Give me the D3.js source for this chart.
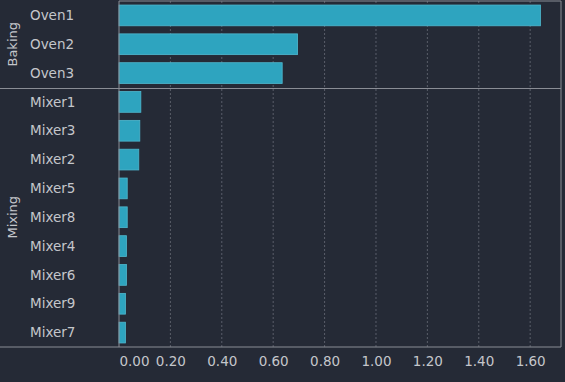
<!DOCTYPE html>
<html>
<head>
<meta charset="utf-8">
<script src="https://cdn.jsdelivr.net/npm/d3@7"></script>
<style>
  html, body { margin: 0; padding: 0; background: #252a36; }
  svg { display: block; }
  text { font-family: "DejaVu Sans", sans-serif; fill: #c4c6cb; }
</style>
</head>
<body>
<div id="chart"></div>
<script>
const groups = ["Baking", "Mixing"];
const machines = ["Oven1", "Oven2", "Oven3", "Mixer1", "Mixer3", "Mixer2", "Mixer5", "Mixer8", "Mixer4", "Mixer6", "Mixer9", "Mixer7"];
const machineGroup = ["Baking", "Baking", "Baking", "Mixing", "Mixing", "Mixing", "Mixing", "Mixing", "Mixing", "Mixing", "Mixing", "Mixing"];
const values = [1.64, 0.695, 0.635, 0.085, 0.081, 0.077, 0.032, 0.032, 0.029, 0.029, 0.025, 0.025];
const tickValues = [0, 0.2, 0.4, 0.6, 0.8, 1.0, 1.2, 1.4, 1.6];

const data = machines.map((name, i) => ({ name, group: machineGroup[i], value: values[i] }));

const width = 565, height = 382;
const margin = { top: 1, right: 4, bottom: 35, left: 119 };
const gridColor = "#8a8d95";

const svg = d3.select("#chart").append("svg")
  .attr("width", width)
  .attr("height", height);

svg.append("rect")
  .attr("width", width)
  .attr("height", height)
  .attr("fill", "#252a36");

const x = d3.scaleLinear()
  .domain([0, 1.72])
  .range([margin.left, width - margin.right]);

const y = d3.scaleBand()
  .domain(machines)
  .range([margin.top, height - margin.bottom])
  .paddingInner(0.28)
  .paddingOuter(0.14);

const bottom = height - margin.bottom;

// grid lines
svg.append("g")
  .selectAll("line")
  .data(tickValues.slice(1))
  .enter()
  .append("line")
  .attr("x1", (d) => x(d))
  .attr("x2", (d) => x(d))
  .attr("y1", margin.top)
  .attr("y2", bottom)
  .attr("stroke", "#5a5e6a")
  .attr("stroke-width", 1)
  .attr("stroke-dasharray", "2,2");

// bars
svg.append("g")
  .selectAll("rect")
  .data(data)
  .enter()
  .append("rect")
  .attr("x", x(0))
  .attr("y", (d) => y(d.name))
  .attr("width", (d) => x(d.value) - x(0))
  .attr("height", y.bandwidth())
  .attr("fill", "#2ea4bf")
  .attr("stroke", "#4fb8cf")
  .attr("stroke-width", 0.8);

// x axis labels
const xAxis = d3.axisBottom(x)
  .tickValues(tickValues)
  .tickFormat(d3.format(".2f"))
  .tickSize(0)
  .tickPadding(9);

const gx = svg.append("g")
  .attr("transform", `translate(0, ${bottom})`)
  .call(xAxis);
gx.select(".domain").remove();
gx.selectAll("text")
  .style("font-family", "DejaVu Sans, sans-serif")
  .style("font-size", "13.5px")
  .attr("fill", "#c4c6cb")
  .attr("dx", (d) => (d === 0 ? 15 : 0));

// frame
svg.append("line")
  .attr("x1", 0).attr("x2", width - margin.right)
  .attr("y1", bottom).attr("y2", bottom)
  .attr("stroke", gridColor);
svg.append("line")
  .attr("x1", x(0)).attr("x2", x(0))
  .attr("y1", margin.top).attr("y2", bottom)
  .attr("stroke", gridColor);
svg.append("line")
  .attr("x1", width - margin.right).attr("x2", width - margin.right)
  .attr("y1", margin.top).attr("y2", bottom)
  .attr("stroke", gridColor);
svg.append("line")
  .attr("x1", x(0)).attr("x2", width - margin.right)
  .attr("y1", margin.top).attr("y2", margin.top)
  .attr("stroke", gridColor);

// group separator
const step = y.step();
groups.slice(1).forEach((g) => {
  const first = data.find((d) => d.group === g).name;
  const sepY = Math.round(y(first) - (step - y.bandwidth()) / 2) + 0.5;
  svg.append("line")
    .attr("x1", 0).attr("x2", width - margin.right)
    .attr("y1", sepY).attr("y2", sepY)
    .attr("stroke", gridColor);
});

// category labels
svg.append("g")
  .selectAll("text")
  .data(data)
  .enter()
  .append("text")
  .attr("x", 30)
  .attr("y", (d) => y(d.name) + y.bandwidth() / 2)
  .attr("dy", "0.35em")
  .style("font-size", "13.5px")
  .text((d) => d.name);

// group labels
groups.forEach((g) => {
  const rows = data.filter((d) => d.group === g);
  const y0 = y(rows[0].name);
  const y1 = y(rows[rows.length - 1].name) + y.bandwidth();
  svg.append("text")
    .attr("transform", `translate(12, ${(y0 + y1) / 2}) rotate(-90)`)
    .attr("text-anchor", "middle")
    .attr("dy", "0.35em")
    .style("font-size", "13px")
    .text(g);
});
</script>
</body>
</html>
